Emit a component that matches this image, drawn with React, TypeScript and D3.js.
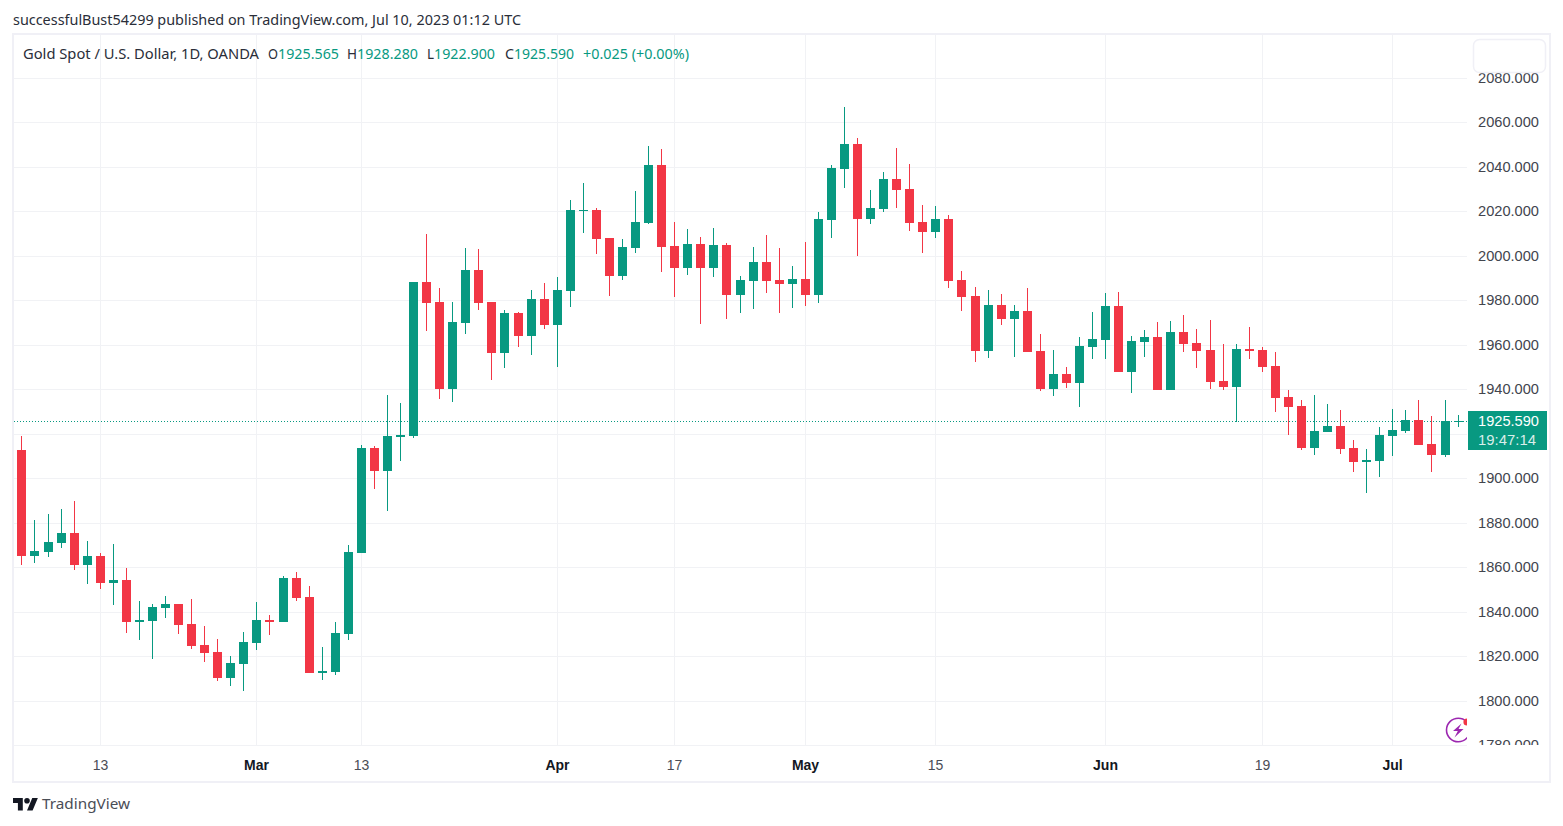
import React, { useEffect, useRef } from "react";
import * as d3 from "d3";

// daily candles, oldest first
const opens = [
  1912.5, 1865.25, 1867.05, 1871.1, 1875.6, 1861.2, 1865.25, 1853.1, 1854.45, 1835.55,
  1836, 1841.85, 1843.65, 1834.65, 1825.2, 1822.05, 1810.35, 1816.65, 1826.1, 1836.45,
  1835.55, 1855.35, 1846.8, 1812.6, 1813.05, 1830.15, 1866.6, 1913.4, 1903.5, 1918.5,
  1918.8, 1988.4, 1979.4, 1940.25, 1969.95, 1993.8, 1979.4, 1956.45, 1974.45, 1964.1,
  1980.75, 1969.05, 1984.35, 2020.5, 2020.8, 2008.2, 1991.1, 2003.7, 2014.95, 2040.6,
  2004.6, 1994.7, 2005.5, 1994.7, 2005.05, 1982.3, 1988.6, 1997.15, 1989.05, 1987.25,
  1989.5, 1982.3, 2016.05, 2039, 2050.25, 2016.5, 2021, 2034.5, 2030, 2015.15,
  2010.65, 2016.5, 1989.05, 1981.85, 1957.1, 1977.8, 1971.5, 1975.1, 1957.1, 1940,
  1946.75, 1942.7, 1958.9, 1962.15, 1977.45, 1947.75, 1961.25, 1963.5, 1939.65, 1965.75,
  1960.8, 1957.65, 1943.7, 1941, 1958.1, 1957.65, 1950.45, 1936.5, 1932.45, 1913.55,
  1920.75, 1923.45, 1913.55, 1907.25, 1907.7, 1918.95, 1921.2, 1926.15, 1915.35, 1910.4,
  1925.565,
];
const highs = [
  1918.8, 1881.45, 1884.15, 1886.4, 1890, 1872, 1866.6, 1870.65, 1859.85, 1845,
  1843.65, 1847.25, 1843.65, 1845.9, 1833.75, 1827.9, 1820.25, 1831.05, 1844.55, 1838.7,
  1856.25, 1858.05, 1851.75, 1824.3, 1835.55, 1870.2, 1914.75, 1914.3, 1937.55, 1933.95,
  1988.4, 2010, 1985.7, 1979.4, 2003.7, 2003.25, 1979.4, 1975.8, 1974.9, 1984.8,
  1987.95, 1990.65, 2025.3, 2032.5, 2021.7, 2008.2, 2007.75, 2028.9, 2049.15, 2047.8,
  2015.4, 2012.25, 2008.65, 2012.7, 2005.95, 1990.85, 2003.9, 2009.3, 2003.45, 1995.35,
  2006.15, 2019.65, 2040.8, 2066.9, 2052.95, 2029.55, 2037.65, 2048.45, 2041.25, 2022.8,
  2022.35, 2018.3, 1993.1, 1985.9, 1984.55, 1982.75, 1977.8, 1985.45, 1964.75, 1957.55,
  1949.9, 1963.4, 1974.65, 1983.3, 1983.75, 1963.95, 1966.65, 1970.25, 1970.7, 1973.4,
  1967.1, 1971.15, 1960.35, 1960.35, 1968, 1959, 1956.75, 1939.65, 1935.15, 1937.4,
  1933.35, 1930.65, 1917.15, 1913.1, 1923, 1931.1, 1930.65, 1935.15, 1927.95, 1935.15,
  1928.28,
];
const lows = [
  1861.2, 1862.1, 1864.8, 1868.85, 1858.95, 1852.65, 1850.4, 1843.2, 1830.6, 1827.45,
  1818.9, 1837.35, 1830.15, 1823.4, 1817.55, 1809, 1806.75, 1804.5, 1822.95, 1829.7,
  1835.55, 1845, 1812.6, 1809.45, 1811.7, 1827.45, 1866.6, 1895.4, 1885.5, 1907.6,
  1918.3, 1966.35, 1935.75, 1934.4, 1965, 1975.8, 1944.3, 1949.7, 1959.15, 1955.55,
  1967.25, 1950.15, 1977.15, 2010.45, 2001, 1982.1, 1989.3, 2001.45, 2014.5, 1992.9,
  1981.65, 1991.55, 1969.5, 1990.35, 1971.6, 1974.2, 1976, 1983.2, 1974.2, 1976.45,
  1977.35, 1978.7, 2007.95, 2030.45, 1999.85, 2014.25, 2019.65, 2021.45, 2011.1, 2001.2,
  2007.95, 1985.45, 1975.1, 1952.15, 1953.95, 1968.8, 1954.4, 1956.65, 1939.1, 1936.85,
  1940.45, 1931.9, 1953.5, 1953.6, 1947.75, 1938.3, 1954.5, 1939.65, 1939.65, 1956.75,
  1949.55, 1940.1, 1939.65, 1925.25, 1953.6, 1947.75, 1929.75, 1919.4, 1912.65, 1910.4,
  1920.75, 1910.85, 1902.75, 1893.3, 1900.5, 1909.95, 1920.3, 1914.9, 1902.75, 1909.5,
  1922.9,
];
const closes = [
  1865.25, 1867.5, 1871.55, 1875.6, 1861.2, 1865.25, 1853.1, 1854.45, 1835.55, 1836.45,
  1842.3, 1843.65, 1834.2, 1824.75, 1821.6, 1810.35, 1817.1, 1826.55, 1836.45, 1835.55,
  1855.35, 1846.35, 1812.6, 1813.5, 1830.6, 1867.05, 1913.4, 1903.5, 1918.8, 1919.25,
  1988.4, 1978.95, 1940.25, 1970.4, 1993.8, 1978.95, 1956.45, 1974.45, 1964.1, 1980.75,
  1969.05, 1984.8, 2020.8, 2020.65, 2007.75, 1991.1, 2004.15, 2015.4, 2040.6, 2004.15,
  1994.7, 2005.5, 1994.7, 2005.05, 1982.3, 1989.05, 1997.15, 1988.6, 1987.25, 1989.5,
  1982.3, 2016.5, 2039.45, 2050.25, 2016.5, 2021.45, 2034.5, 2029.55, 2014.7, 2010.65,
  2016.5, 1988.6, 1981.4, 1957.1, 1977.8, 1971.5, 1975.1, 1956.65, 1940, 1946.75,
  1942.7, 1959.35, 1962.5, 1977.45, 1947.75, 1961.7, 1963.5, 1939.65, 1965.75, 1960.35,
  1957.2, 1943.25, 1941, 1958.1, 1957.2, 1950, 1936.05, 1932, 1913.55, 1921.2,
  1923.45, 1913.1, 1907.25, 1908.15, 1919.4, 1921.65, 1926.15, 1914.9, 1910.4, 1925.7,
  1925.59,
];

const priceTicks = [1780, 1800, 1820, 1840, 1860, 1880, 1900, 1920, 1940, 1960, 1980, 2000, 2020, 2040, 2060, 2080];
const priceLabelSkip = [1920];
const dateTickIndex = [6, 18, 26, 41, 50, 60, 70, 83, 95, 105];
const dateTickLabels = ["13", "Mar", "13", "Apr", "17", "May", "15", "Jun", "19", "Jul"];
const monthLabels = ["Mar", "Apr", "May", "Jun", "Jul"];

const lastPrice = 1925.59;
const countdown = "19:47:14";
const publishedLine = "successfulBust54299 published on TradingView.com, Jul 10, 2023 01:12 UTC";
const symbolLine = "Gold Spot / U.S. Dollar, 1D, OANDA";
const ohlcLabels = ["O", "H", "L", "C"];
const ohlcValues = ["1925.565", "1928.280", "1922.900", "1925.590"];
const changeText = "+0.025 (+0.00%)";

const GREEN = "#089981";
const RED = "#f23645";
const GRID = "#f1f2f5";
const FRAME = "#f0f0f6";
const TEXT = "#131722";
const HEADER_FONT = "'Noto Sans', sans-serif";
const AXIS_FONT = "'Liberation Sans', Arial, sans-serif";

export default function App() {
  const svgRef = useRef<SVGSVGElement>(null);

  useEffect(() => {
    const width = 1563;
    const height = 826;
    const paneLeft = 14;
    const paneRight = 1467;
    const paneTop = 35;
    const paneBottom = 745;

    const svg = d3.select(svgRef.current).attr("width", width).attr("height", height);
    svg.selectAll("*").remove();

    const x = d3.scaleLinear().domain([0, 110]).range([21.92, 1458.08]);
    const y = d3.scaleLinear().domain([1780, 2080]).range([745.3, 77.8]);
    const gridY = y.copy().interpolate(d3.interpolateRound);
    const px = (i: number) => Math.floor(x(i)) + 0.5;

    svg
      .append("rect")
      .attr("width", width)
      .attr("height", height)
      .attr("fill", "#ffffff");

    const defs = svg.append("defs");
    defs
      .append("clipPath")
      .attr("id", "pane")
      .append("rect")
      .attr("x", paneLeft)
      .attr("y", paneTop)
      .attr("width", paneRight - paneLeft)
      .attr("height", paneBottom - paneTop);
    defs
      .append("clipPath")
      .attr("id", "axisClip")
      .append("rect")
      .attr("x", paneRight)
      .attr("y", paneTop)
      .attr("width", 80)
      .attr("height", paneBottom - paneTop);

    // grid lines
    svg
      .append("g")
      .attr("transform", `translate(${paneRight}, 0)`)
      .call(
        d3
          .axisLeft(gridY)
          .tickValues(priceTicks)
          .tickSize(paneRight - paneLeft)
          .tickFormat(() => "")
      )
      .call((g) => g.select(".domain").remove())
      .call((g) => g.selectAll("line").attr("stroke", GRID));

    svg
      .append("g")
      .selectAll("line")
      .data(dateTickIndex)
      .join("line")
      .attr("x1", (d) => px(d))
      .attr("x2", (d) => px(d))
      .attr("y1", paneTop)
      .attr("y2", paneBottom)
      .attr("stroke", GRID);

    // last price line
    svg
      .append("line")
      .attr("x1", paneLeft)
      .attr("x2", paneRight)
      .attr("y1", 421.5)
      .attr("y2", 421.5)
      .attr("stroke", GREEN)
      .attr("stroke-dasharray", "1 2");

    // candles
    const candles = svg.append("g").attr("shape-rendering", "crispEdges");
    const idx = d3.range(opens.length);
    const color = (i: number) => (closes[i] >= opens[i] ? GREEN : RED);

    candles
      .selectAll("line")
      .data(idx)
      .join("line")
      .attr("x1", (i) => px(i))
      .attr("x2", (i) => px(i))
      .attr("y1", (i) => Math.round(y(highs[i])))
      .attr("y2", (i) => Math.round(y(lows[i])))
      .attr("stroke", color);

    candles
      .selectAll("rect")
      .data(idx)
      .join("rect")
      .attr("x", (i) => Math.floor(x(i)) - 4)
      .attr("width", 9)
      .attr("y", (i) => Math.round(y(Math.max(opens[i], closes[i]))))
      .attr("height", (i) => {
        const t = Math.round(y(Math.max(opens[i], closes[i])));
        const b = Math.round(y(Math.min(opens[i], closes[i])));
        return Math.max(1, b - t);
      })
      .attr("fill", color);

    // lightning badge, cut by the price scale
    const badge = svg.append("g").attr("clip-path", "url(#pane)");
    badge
      .append("circle")
      .attr("cx", 1458.3)
      .attr("cy", 730)
      .attr("r", 11.8)
      .attr("fill", "#ffffff")
      .attr("stroke", "#9c27b0")
      .attr("stroke-width", 1.6);
    badge
      .append("path")
      .attr("d", "M1461.5 723.5 L1453 731 L1457.8 731 L1454.5 737.5 L1463.5 729 L1458.5 729 Z")
      .attr("fill", "#9c27b0");
    badge.append("circle").attr("cx", 1467).attr("cy", 722).attr("r", 3.6).attr("fill", RED);

    // price scale
    const priceAxis = svg.append("g").attr("clip-path", "url(#axisClip)");
    priceAxis
      .selectAll("text")
      .data(priceTicks.filter((d) => !priceLabelSkip.includes(d)))
      .join("text")
      .attr("x", 1478)
      .attr("y", (d) => y(d) + 4.7)
      .attr("textLength", 61)
      .attr("lengthAdjust", "spacingAndGlyphs")
      .attr("font-family", AXIS_FONT)
      .attr("font-size", 14)
      .attr("fill", "#42454e")
      .text((d) => d3.format(".3f")(d));

    svg
      .append("rect")
      .attr("x", 1468)
      .attr("y", 411)
      .attr("width", 79)
      .attr("height", 39)
      .attr("fill", GREEN);
    svg
      .append("text")
      .attr("x", 1478)
      .attr("y", 426)
      .attr("textLength", 61)
      .attr("lengthAdjust", "spacingAndGlyphs")
      .attr("font-family", AXIS_FONT)
      .attr("font-size", 14)
      .attr("fill", "#ffffff")
      .text(d3.format(".3f")(lastPrice));
    svg
      .append("text")
      .attr("x", 1478)
      .attr("y", 445)
      .attr("textLength", 58)
      .attr("lengthAdjust", "spacingAndGlyphs")
      .attr("font-family", AXIS_FONT)
      .attr("font-size", 14)
      .attr("fill", "#ffffff")
      .attr("fill-opacity", 0.85)
      .text(countdown);

    // date scale
    svg
      .append("g")
      .selectAll("text")
      .data(dateTickIndex)
      .join("text")
      .attr("x", (d) => px(d))
      .attr("y", 770)
      .attr("text-anchor", "middle")
      .attr("font-family", AXIS_FONT)
      .attr("font-size", 14)
      .attr("font-weight", (_, i) => (monthLabels.includes(dateTickLabels[i]) ? 700 : 400))
      .attr("fill", (_, i) => (monthLabels.includes(dateTickLabels[i]) ? TEXT : "#4a4d56"))
      .text((_, i) => dateTickLabels[i]);

    // frame
    svg
      .append("rect")
      .attr("x", 13)
      .attr("y", 34)
      .attr("width", 1537)
      .attr("height", 748)
      .attr("fill", "none")
      .attr("stroke", FRAME)
      .attr("stroke-width", 2);
    svg
      .append("rect")
      .attr("x", 1473.5)
      .attr("y", 39.5)
      .attr("width", 72)
      .attr("height", 33)
      .attr("rx", 6)
      .attr("fill", "#ffffff")
      .attr("stroke", FRAME)
      .attr("stroke-width", 1.5);

    // header
    const headerText = (
      label: string,
      left: number,
      right: number,
      baseline: number,
      fill: string
    ) =>
      svg
        .append("text")
        .attr("x", left)
        .attr("y", baseline)
        .attr("textLength", right - left)
        .attr("lengthAdjust", "spacingAndGlyphs")
        .attr("font-family", HEADER_FONT)
        .attr("font-size", 14)
        .attr("fill", fill)
        .text(label);

    headerText(publishedLine, 13, 521, 25, "#2a2e39");
    headerText(symbolLine, 23, 259, 59, "#2a2e39");
    const labelLeft = [268, 347, 427, 505];
    const valueLeft = [278, 357, 434, 514];
    const valueRight = [339, 418, 495, 574];
    ohlcLabels.forEach((d, i) => {
      headerText(d, labelLeft[i], valueLeft[i], 59, "#2a2e39");
      headerText(ohlcValues[i], valueLeft[i], valueRight[i], 59, GREEN);
    });
    headerText(changeText, 583, 689, 59, GREEN);

    // footer logo
    svg
      .append("path")
      .attr("transform", "translate(13, 795.2) scale(0.7)")
      .attr("d", "M14 22H7V11H0V4h14v18zM28 22h-8l7.5-18h8L28 22z")
      .attr("fill", TEXT);
    svg
      .append("circle")
      .attr("transform", "translate(13, 795.2) scale(0.7)")
      .attr("cx", 20)
      .attr("cy", 8)
      .attr("r", 4)
      .attr("fill", TEXT);
    headerText("TradingView", 42, 130, 809, "#4a4d56").attr("font-size", 15);
  }, []);

  return (
    <div>
      <svg ref={svgRef} style={{ position: "absolute", left: 0, top: 0, display: "block" }}></svg>
    </div>
  );
}
